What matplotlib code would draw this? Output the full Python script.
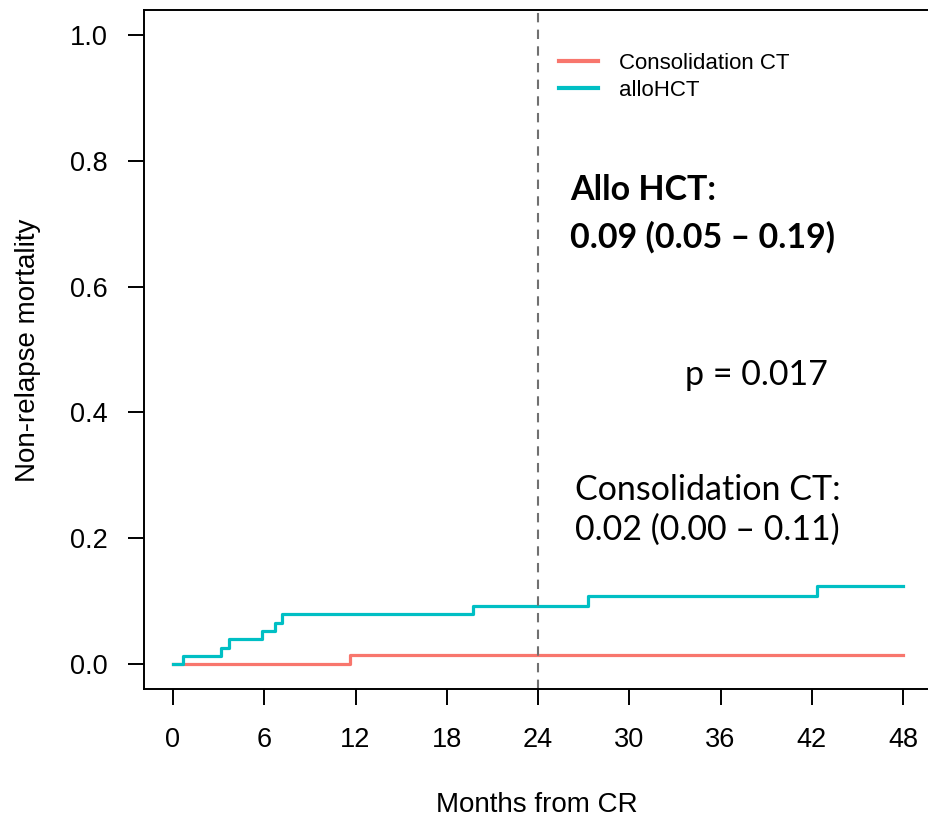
import matplotlib
matplotlib.use("Agg")
import matplotlib.pyplot as plt

# tiempos (meses) y mortalidad acumulada
allo_t = [0, 0.68, 3.13, 3.70, 5.85, 6.70, 7.14, 19.74, 27.26, 42.36, 48]
allo_nrm = [0, 0.013, 0.026, 0.040, 0.053, 0.066, 0.080, 0.093, 0.108, 0.124, 0.124]
ct_t = [0, 11.64, 48]
ct_nrm = [0, 0.014, 0.014]

x_ticks = [0, 6, 12, 18, 24, 30, 36, 42, 48]
y_ticks = [0.0, 0.2, 0.4, 0.6, 0.8, 1.0]
landmark = 24

rojo = '#F8766D'
turquesa = '#00BFC4'

plt.rcParams['font.family'] = ['Liberation Sans', 'DejaVu Sans']

fig = plt.figure(figsize=(9.29, 8.23), dpi=100)
W, H = 929, 823
# ejes en pixeles: x=0 -> 173, x=48 -> 903 ; y=0 -> 664, y=1 -> 35
ax = fig.add_axes([143.8 / W, 1 - 689.2 / H, (932.2 - 143.8) / W, (689.2 - 9.8) / H])
ax.set_xlim(-1.92, 49.92)
ax.set_ylim(-0.04, 1.04)

ax.step(ct_t, ct_nrm, where='post', color=rojo, lw=2.3, label='Consolidation CT')
ax.step(allo_t, allo_nrm, where='post', color=turquesa, lw=2.3, label='alloHCT')
ax.axvline(landmark, color='#707070', lw=1.5, ls=(0, (4.5, 3.5)))

ax.set_xticks(x_ticks)
ax.set_xticklabels([str(v) for v in x_ticks])
ax.set_yticks(y_ticks)
ax.set_yticklabels(['%.1f' % v for v in y_ticks])
ax.tick_params(direction='out', length=11.5, width=1.4, labelsize=19.5, pad=14.5)
ax.tick_params(axis='x', pad=15.5)
for s in ax.spines.values():
    s.set_linewidth(1.4)

fig.text(537 / W, 1 - 805 / H, 'Months from CR', fontsize=20, ha='center', va='center')
fig.text(28 / W, 1 - 350 / H, 'Non-relapse mortality', fontsize=20, ha='center', va='center',
         rotation=90)

leg = ax.legend(loc='upper left', bbox_to_anchor=(548 / W, 1 - 42 / H),
                bbox_transform=fig.transFigure, frameon=False, fontsize=16,
                handlelength=1.75, handletextpad=0.95, labelspacing=0.25, borderpad=0)
for l in leg.get_lines():
    l.set_linewidth(3)

fuente = ['Lato', 'DejaVu Sans']
ax.text(26.1, 0.754, 'Allo HCT:', fontsize=24.5, fontweight='bold', family=fuente,
        ha='left', va='center')
ax.text(26.1, 0.679, '0.09 (0.05 \u2013 0.19)', fontsize=24.5, fontweight='bold', family=fuente,
        ha='left', va='center')
ax.text(33.66, 0.459, 'p = 0.017', fontsize=24.5, family=fuente, ha='left', va='center')
ax.text(26.43, 0.277, 'Consolidation CT:', fontsize=24.5, family=fuente, ha='left', va='center')
ax.text(26.43, 0.213, '0.02 (0.00 \u2013 0.11)', fontsize=24.5, family=fuente, ha='left', va='center')

fig.savefig('out.png', dpi=100)
